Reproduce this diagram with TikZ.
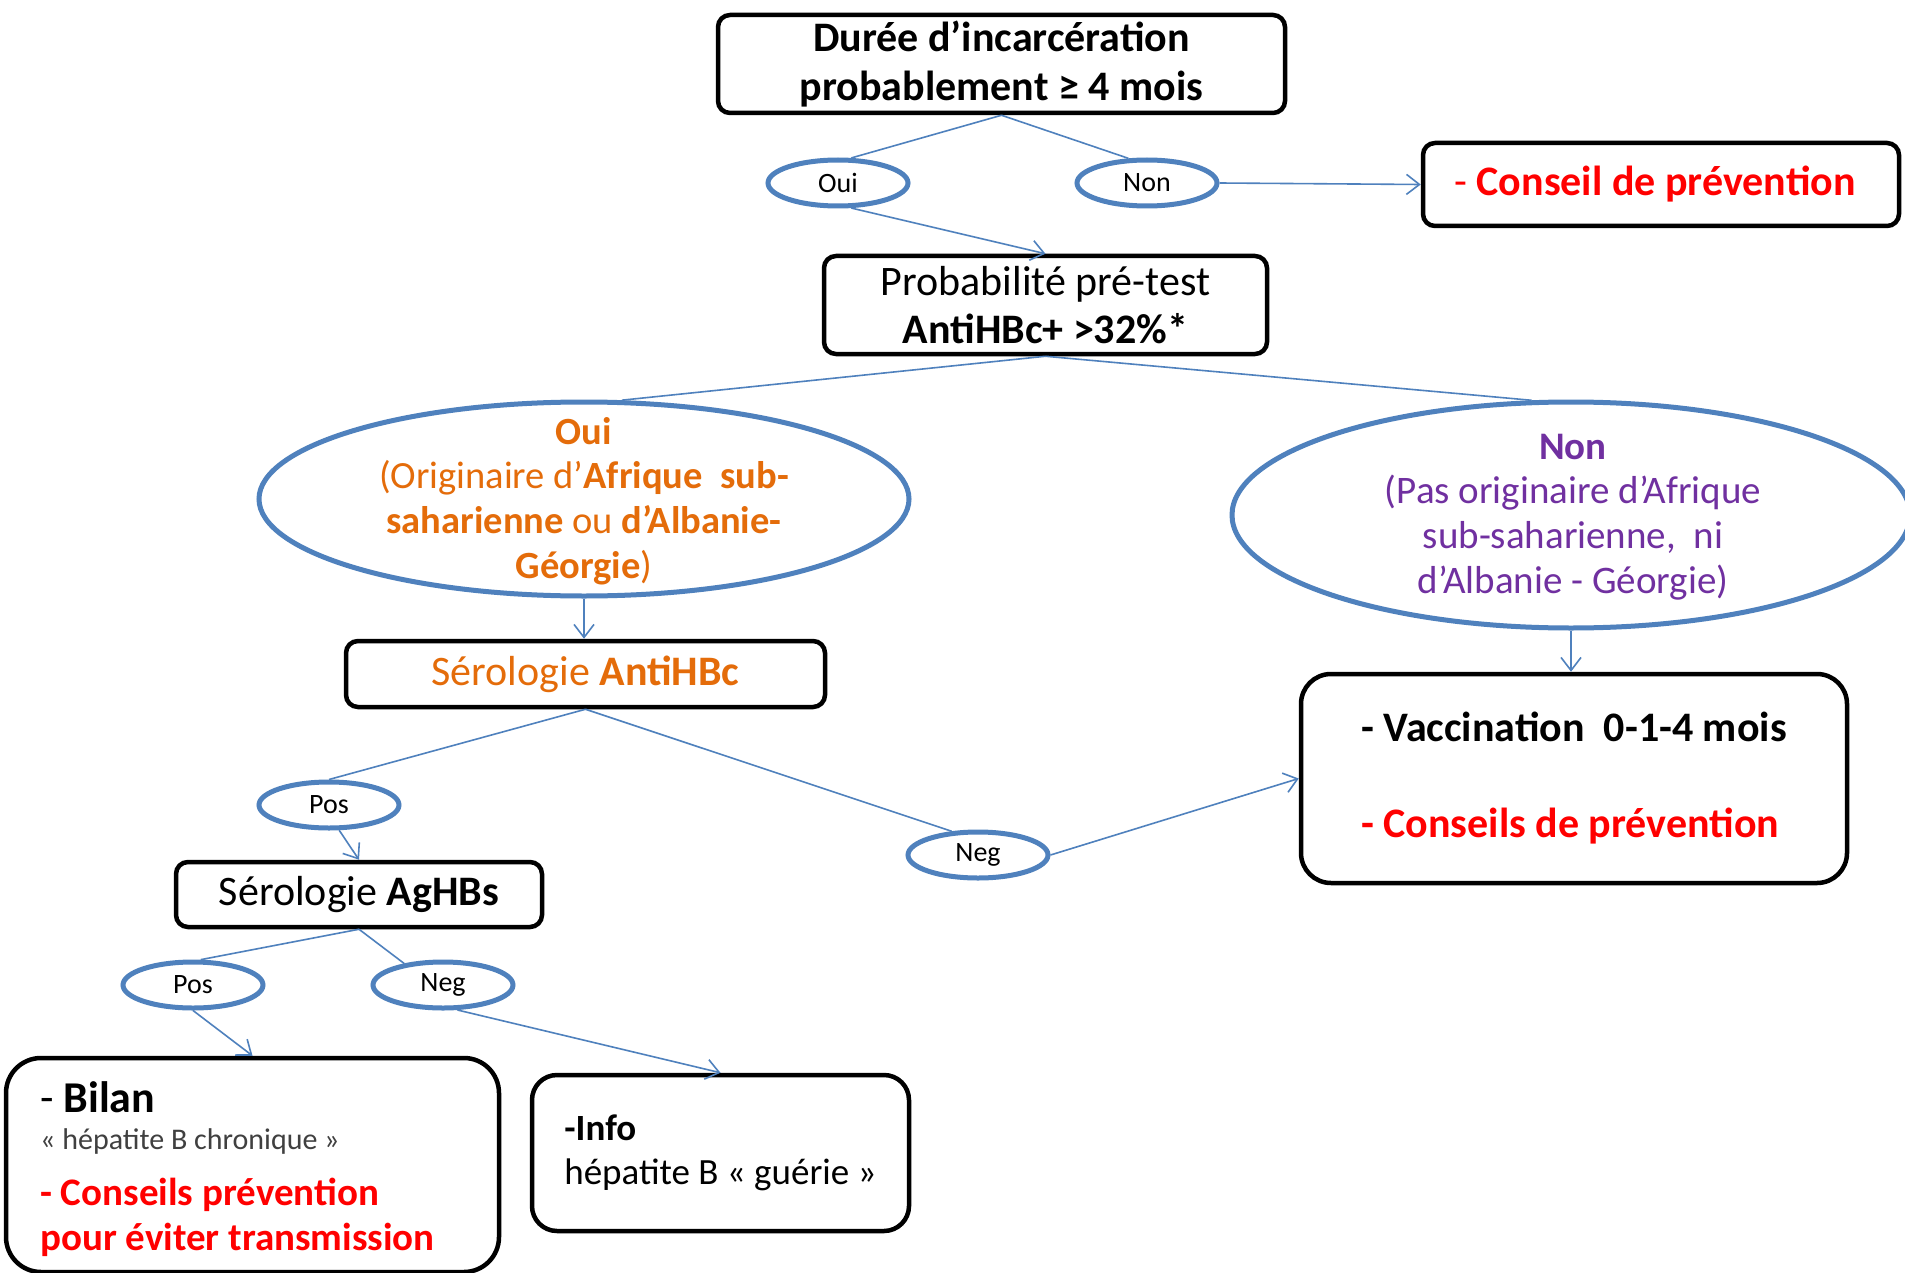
\documentclass[tikz,border=0pt]{standalone}
\usepackage{fontspec}
\setmainfont{Carlito}
\usetikzlibrary{shapes.geometric,arrows.meta}
\definecolor{lineblue}{HTML}{4F81BD}
\definecolor{txtorange}{HTML}{E46C0A}
\definecolor{txtpurple}{HTML}{7030A0}
\definecolor{txtred}{HTML}{FF0000}
\definecolor{txtgray}{HTML}{404040}
\newcommand{\fsz}[2]{\fontsize{#1}{#2}\selectfont}

\begin{document}
\begin{tikzpicture}[x=1pt,y=-1pt,
  box/.style={draw=black, line width=4.5pt, rounded corners=#1, inner sep=0pt, align=center},
  box/.default=12pt,
  oval/.style={ellipse, draw=lineblue, line width=5pt, inner sep=0pt, align=center},
  small/.style={oval, minimum width=140pt, minimum height=46pt, font=\fsz{28}{32}},
  conn/.style={draw=lineblue, line width=1.6pt},
  arr/.style={conn, -{Straight Barb[length=13pt,width=20pt,line width=1.6pt]}},
  txt/.style={anchor=base west, inner sep=0pt}
]
\fill[white] (0,0) rectangle (1905,1273);
\useasboundingbox (0,0) rectangle (1905,1273);

% boxes and decision ovals
\node[box, minimum width=567pt, minimum height=98pt, font=\bfseries\fsz{42}{48.5}] (duree) at (1001.5,64)
  {Durée d’incarcération\\probablement ≥ 4 mois};
\node[small] (oui) at (838,183) {Oui};
\node[small] (non) at (1147,183) {Non};
\node[box, minimum width=476pt, minimum height=83pt, font=\bfseries\fsz{42}{48}, text=txtred] (conseil) at (1661,184.5)
  {{\mdseries -} Conseil de prévention\hspace*{12pt}};
\node[box, minimum width=443pt, minimum height=98pt, font=\fsz{42}{48.5}] (proba) at (1045.5,305)
  {Probabilité pré-test\\\textbf{AntiHBc+ >32\%*}};

% large origin ovals, drawn empty with their text set on top
\node[oval, minimum width=650pt, minimum height=194pt] (bigoui) at (584,499) {};
\node[align=center, inner sep=0pt, text=txtorange, font=\fsz{38.5}{44.8}] (bigouiT) at (584,501)
  {\textbf{Oui}\\(Originaire d’\textbf{Afrique\ \ sub-}\\\textbf{saharienne} ou \textbf{d’Albanie-}\\\textbf{Géorgie})};
\node[oval, minimum width=678pt, minimum height=226pt] (bignon) at (1571,515) {};
\node[align=center, inner sep=0pt, text=txtpurple, font=\fsz{39}{44.7}] (bignonT) at (1573,517)
  {\textbf{Non}\\(Pas originaire d’Afrique\\sub-saharienne,\ \ ni\\d’Albanie - Géorgie)};

\node[box, minimum width=479pt, minimum height=66pt, text=txtorange, font=\fsz{42}{48}] (antihbc) at (585.5,674)
  {Sérologie \textbf{AntiHBc}};
\node[box=30pt, minimum width=546pt, minimum height=209pt, font=\bfseries\fsz{42}{48}, align=left] (vacc) at (1574,778.5)
  {- Vaccination\ \ 0-1-4 mois\\[48pt]\textcolor{txtred}{- Conseils de prévention}};

\node[small] (pos1) at (329,805) {Pos};
\node[small] (neg1) at (978,855) {Neg};
\node[box, minimum width=366pt, minimum height=65pt, font=\fsz{42}{48}] (aghbs) at (359,894.5)
  {Sérologie \textbf{AgHBs}};
\node[small] (pos2) at (193,985) {Pos};
\node[small] (neg2) at (443,985) {Neg};

\node[box=35pt, minimum width=493pt, minimum height=214pt] (bilan) at (252.5,1165) {};
\node[txt, font=\fsz{44}{50}] (bilanA) at (40,1112) {- \textbf{Bilan}};
\node[txt, font=\fsz{30}{34}, text=txtgray] (bilanB) at (40,1149) {« hépatite B chronique »};
\node[txt, font=\bfseries\fsz{39}{45}, text=txtred] (bilanC) at (40,1205) {- Conseils prévention};
\node[txt, font=\bfseries\fsz{39}{45}, text=txtred] (bilanD) at (40,1250) {pour éviter transmission};

\node[box=25pt, minimum width=377pt, minimum height=156pt, font=\fsz{37}{44}, align=left] (info) at (720.5,1153)
  {\textbf{-Info}\\hépatite B « guérie »};

% connectors
\draw[conn] (duree.south) -- (oui.62);
\draw[conn] (duree.south) -- (non.127);
\draw[arr] (non.east) -- (conseil.west);
\draw[arr] (oui.-62) -- (proba.north);
\draw[conn] (proba.south) -- (bigoui.69.5);
\draw[conn] (proba.south) -- (bignon.109.6);
\draw[arr] (bigoui.south) -- (bigoui.south |- antihbc.north);
\draw[arr] (bignon.south) -- (bignon.south |- vacc.north);
\draw[conn] (antihbc.south) -- (pos1.north);
\draw[conn] (antihbc.south) -- (neg1.138);
\draw[arr] (neg1.east) -- (vacc.west);
\draw[arr] (pos1.-68) -- (aghbs.north);
\draw[conn] (aghbs.south) -- (pos2.73);
\draw[conn] (aghbs.south) -- (neg2.151);
\draw[arr] (pos2.south) -- (bilan.north);
\draw[arr] (neg2.-60) -- (info.north);
\end{tikzpicture}
\end{document}
